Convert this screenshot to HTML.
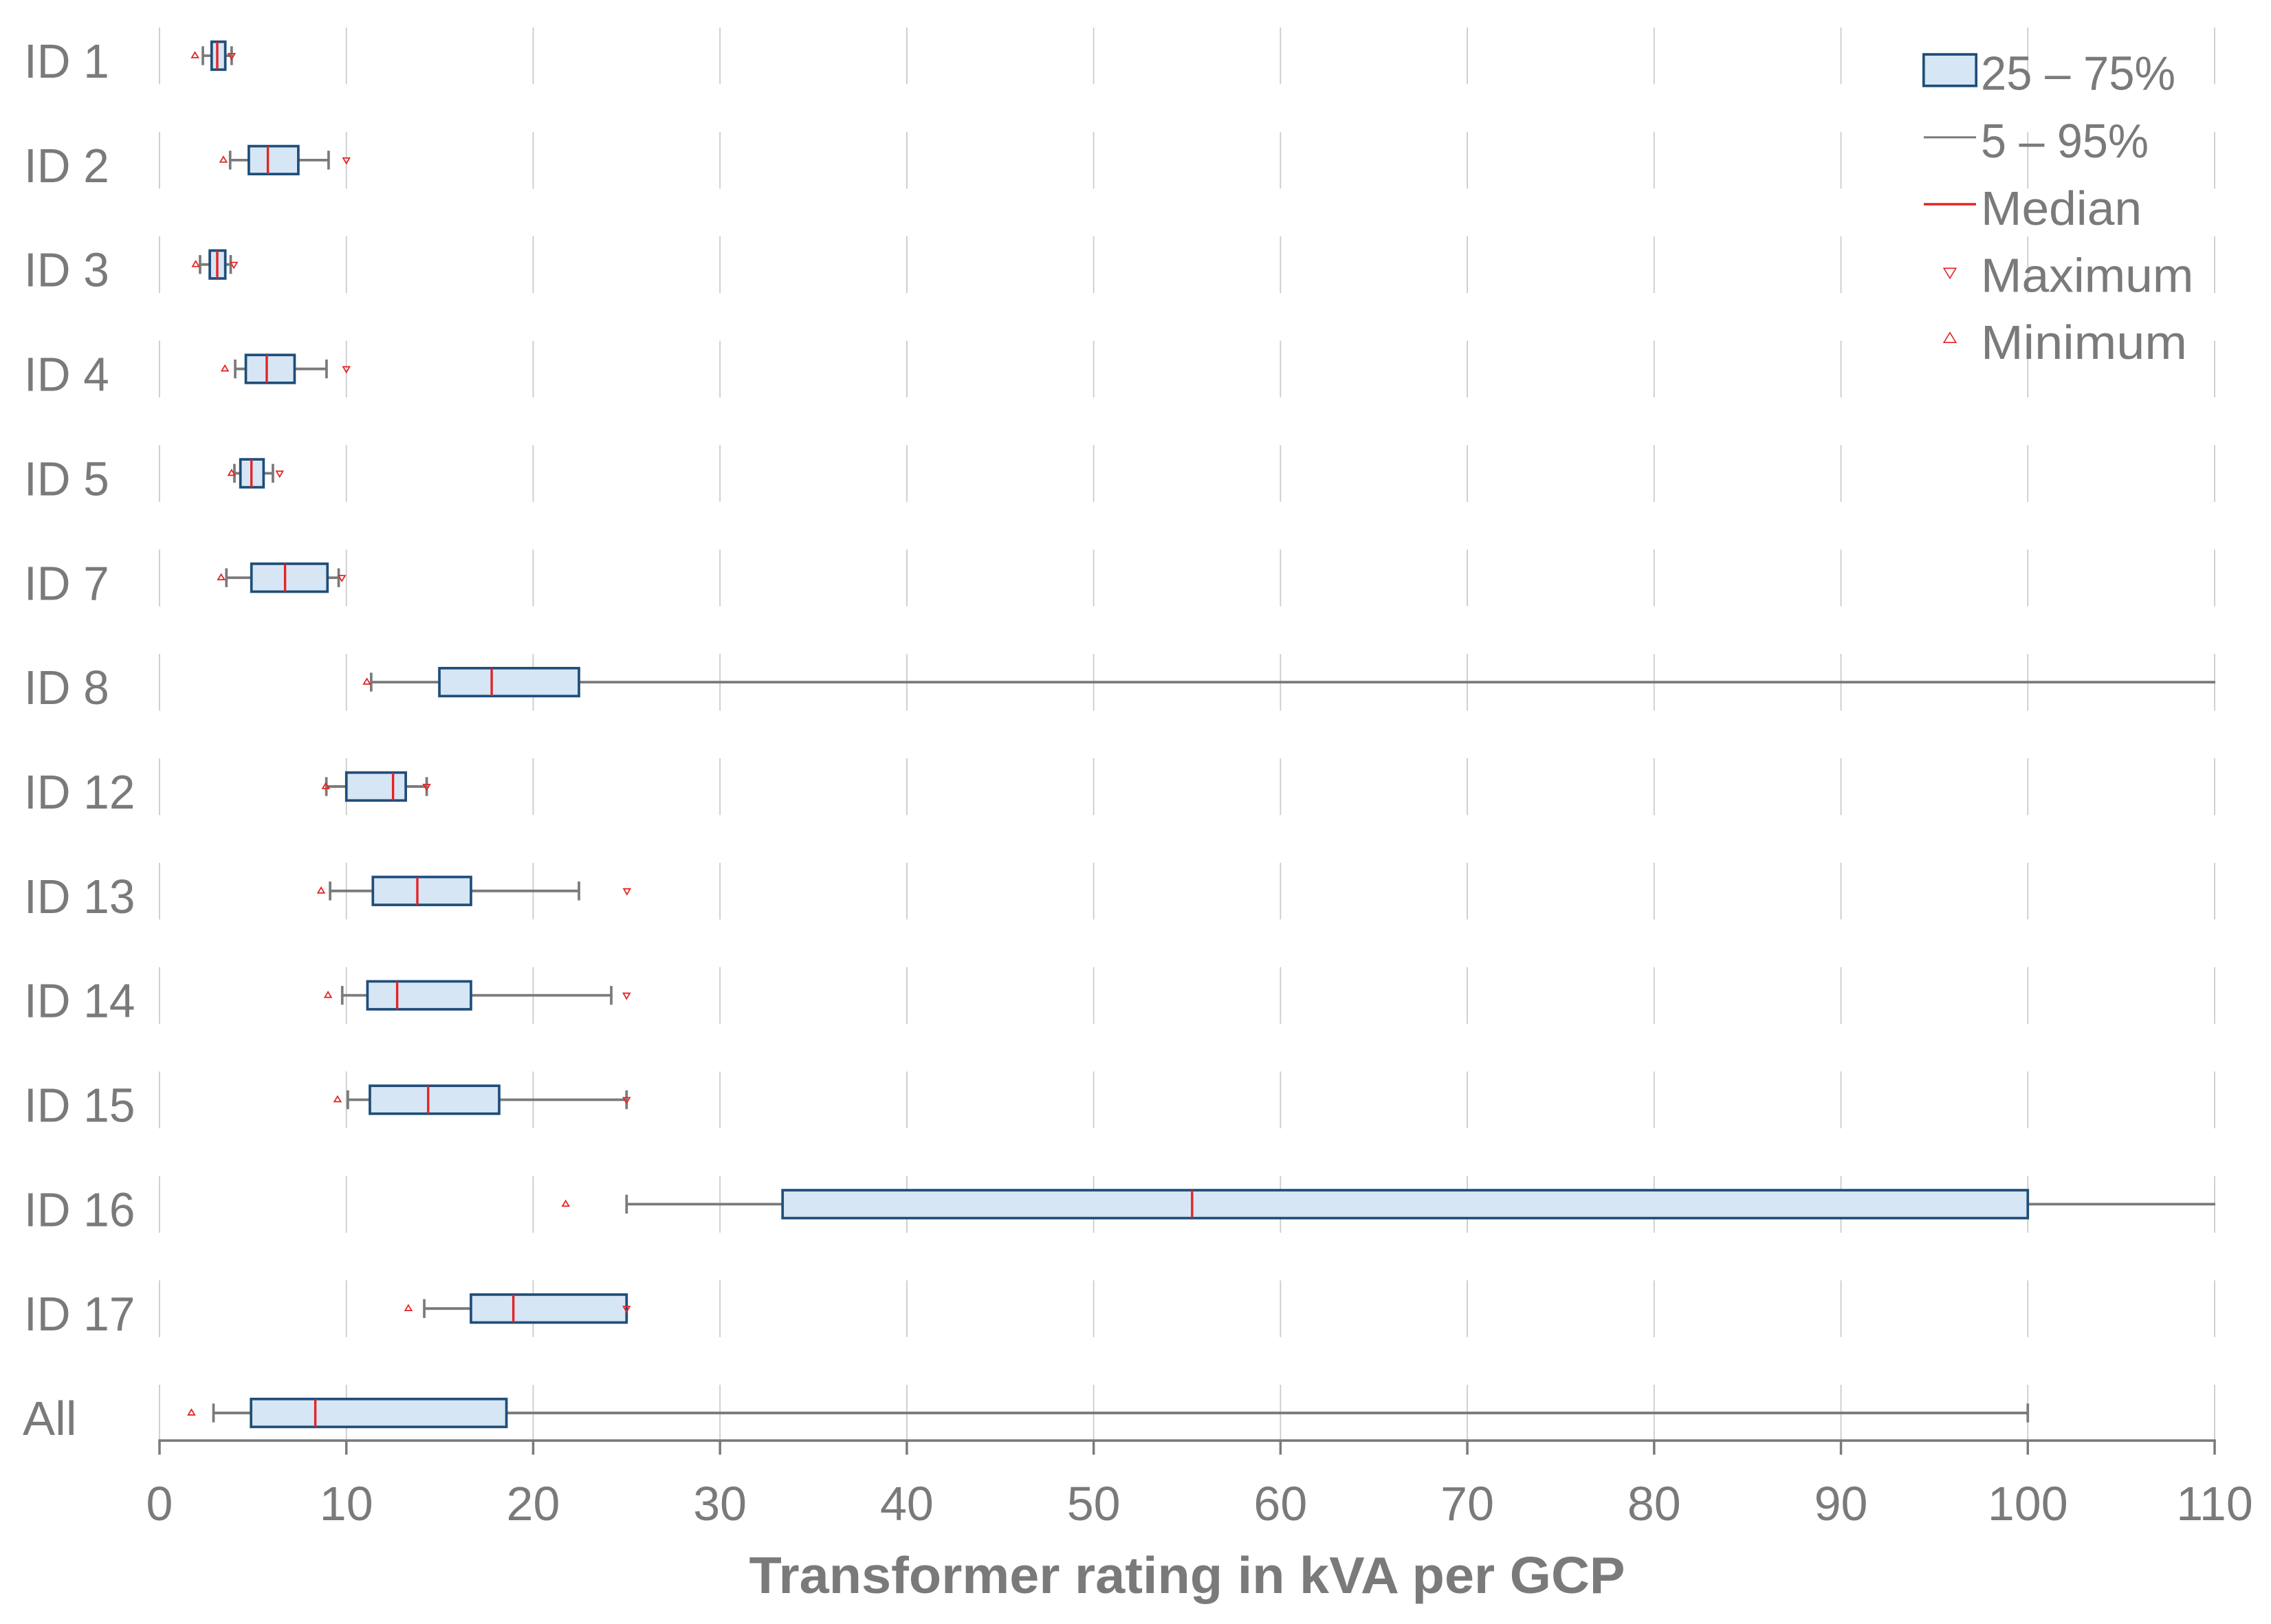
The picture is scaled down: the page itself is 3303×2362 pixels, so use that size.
<!DOCTYPE html>
<html lang="en">
<head>
<meta charset="utf-8">
<title>Transformer rating in kVA per GCP</title>
<style>
  html, body { margin: 0; padding: 0; background: #ffffff; }
  svg { display: block; }
  text { font-family: "Liberation Sans", "DejaVu Sans", sans-serif; fill: #7a7a7a; }
  .label { font-size: 70px; }
  .title { font-size: 75px; font-weight: 700; }
</style>
</head>
<body>
<svg id="chart" xmlns="http://www.w3.org/2000/svg" width="3303" height="2362" viewBox="0 0 3303 2362">
  <defs>
    <clipPath id="plot-clip"><rect x="0" y="0" width="3222" height="2362"></rect></clipPath>
  </defs>
  <rect x="0" y="0" width="3303" height="2362" fill="#ffffff"></rect>
  <g id="grid"></g>
  <g id="row-labels"></g>
  <g id="marks" clip-path="url(#plot-clip)"></g>
  <g id="axis"></g>
  <text class="title" transform="translate(1726.5,2317) scale(1.033,1)" text-anchor="middle">Transformer rating in kVA per GCP</text>

  <g>
    <g>
      <rect x="2797.8" y="79.1" width="76.4" height="45.8" fill="#d6e6f5" stroke="#1f4e79" stroke-width="3.7"></rect>
      <text class="label" transform="translate(2881,130.7) scale(0.957,1)">25 – 75%</text>
    </g>
    <g>
      <line x1="2798" x2="2874" y1="199.7" y2="199.7" stroke="#7a7a7a" stroke-width="3"></line>
      <text class="label" transform="translate(2881,228.8) scale(0.95,1)">5 – 95%</text>
    </g>
    <g>
      <line x1="2798" x2="2874" y1="297" y2="297" stroke="#e32526" stroke-width="3.5"></line>
      <text class="label" transform="translate(2881,326.8) scale(1.02,1)">Median</text>
    </g>
    <g>
      <polygon points="2827.2,390.2 2844.8,390.2 2836,404.6" fill="none" stroke="#e32526" stroke-width="1.6"></polygon>
      <text class="label" transform="translate(2881,424.5) scale(1.02,1)">Maximum</text>
    </g>
    <g>
      <polygon points="2827.2,498.2 2844.8,498.2 2836,483.8" fill="none" stroke="#e32526" stroke-width="1.6"></polygon>
      <text class="label" transform="translate(2881,521.9) scale(1.057,1)">Minimum</text>
    </g>
  </g>
</svg>

<script>
// Chart data (values in kVA per GCP)
const categories  = ['ID 1', 'ID 2', 'ID 3', 'ID 4', 'ID 5', 'ID 7', 'ID 8', 'ID 12', 'ID 13', 'ID 14', 'ID 15', 'ID 16', 'ID 17', 'All'];
const minimum     = [1.9,  3.42, 1.94, 3.5,  3.86, 3.3,  11.1,  8.9,  8.65,  9.02,  9.53,  21.74, 13.32, 1.71];
const whiskerLow  = [2.32, 3.78, 2.17, 4.05, 4.01, 3.58, 11.33, 8.93, 9.13,  9.78,  10.08, 25.0,  14.17, 2.89];
const quartile1   = [2.79, 4.78, 2.69, 4.62, 4.33, 4.92, 14.98, 10.0, 11.42, 11.13, 11.26, 33.35, 16.67, 4.9];
const medianValue = [3.09, 5.8,  3.09, 5.74, 4.92, 6.72, 17.78, 12.5, 13.8,  12.72, 14.38, 55.27, 18.94, 8.34];
const quartile3   = [3.52, 7.43, 3.52, 7.23, 5.57, 8.99, 22.45, 13.18, 16.67, 16.67, 18.18, 100.0, 25.0, 18.57];
const whiskerHigh = [3.86, 9.05, 3.81, 8.94, 6.07, 9.59, 120,   14.3, 22.45, 24.18, 25.0,  120,   25.0, 100.0];
const maximum     = [3.86, 10.0, 3.98, 10.0, 6.43, 9.76, null,  14.3, 25.02, 25.0,  25.0,  null,  25.0, null];
const xTicks      = ['0', '10', '20', '30', '40', '50', '60', '70', '80', '90', '100', '110'];

const SVG_NS = 'http://www.w3.org/2000/svg';
const AXIS_MIN = 0, AXIS_MAX = 110;
const PLOT_LEFT = 232, PLOT_RIGHT = 3221;
const ROW_FIRST = 81, ROW_STEP = 151.85;
const AXIS_Y = 2095.2;
const GREY = '#7a7a7a', NAVY = '#1f4e79', RED = '#e32526', FILL = '#d6e6f5', GRID = '#cbcbcb';

function xScale(v) { return PLOT_LEFT + (v - AXIS_MIN) * (PLOT_RIGHT - PLOT_LEFT) / (AXIS_MAX - AXIS_MIN); }
function yScale(i) { return ROW_FIRST + i * ROW_STEP; }
function slug(s) { return s.toLowerCase().replace(/\s+/g, '-'); }

function mk(parent, tag, props) {
  const el = document.createElementNS(SVG_NS, tag);
  for (const k in props) el.setAttribute(k, props[k]);
  parent.appendChild(el);
  return el;
}

const gridGroup = document.getElementById('grid');
const labelGroup = document.getElementById('row-labels');
const markGroup = document.getElementById('marks');
const axisGroup = document.getElementById('axis');

// Gridline segments and row labels
categories.forEach(function (cat, i) {
  const cy = yScale(i);
  xTicks.forEach(function (t) {
    const gx = xScale(Number(t));
    const seg = mk(gridGroup, 'line', { x1: gx, x2: gx, y1: cy - 41, y2: cy + 41.5, stroke: GRID, 'stroke-width': 1.8 });
    
    
  });
  const isId = cat.indexOf('ID') === 0;
  const lab = mk(labelGroup, 'text', { class: 'label', transform: 'translate(' + (isId ? 35 : 33) + ',' + (cy + 32) + ') scale(' + (isId ? 0.965 : 1.01) + ',1)' });
  lab.textContent = cat;
  
  
});

// Box plot marks
categories.forEach(function (cat, i) {
  const cy = yScale(i);
  const id = slug(cat);
  const g = mk(markGroup, 'g', {});
  
  

  const whisker = mk(g, 'line', { x1: xScale(whiskerLow[i]), x2: xScale(whiskerHigh[i]), y1: cy, y2: cy, stroke: GREY, 'stroke-width': 3.8 });
  
  

  const capLow = mk(g, 'line', { x1: xScale(whiskerLow[i]), x2: xScale(whiskerLow[i]), y1: cy - 13.7, y2: cy + 13.7, stroke: GREY, 'stroke-width': 3.7 });
  
  

  const capHigh = mk(g, 'line', { x1: xScale(whiskerHigh[i]), x2: xScale(whiskerHigh[i]), y1: cy - 13.7, y2: cy + 13.7, stroke: GREY, 'stroke-width': 3.7 });
  
  

  const box = mk(g, 'rect', { x: xScale(quartile1[i]), y: cy - 20.3, width: xScale(quartile3[i]) - xScale(quartile1[i]), height: 40.6, fill: FILL, stroke: NAVY, 'stroke-width': 3.7 });
  
  

  const med = mk(g, 'line', { x1: xScale(medianValue[i]), x2: xScale(medianValue[i]), y1: cy - 20, y2: cy + 20, stroke: RED, 'stroke-width': 3.4 });
  
  

  const mx = xScale(minimum[i]);
  const minMark = mk(g, 'polygon', { points: (mx - 4.7) + ',' + (cy + 2.9) + ' ' + (mx + 4.7) + ',' + (cy + 2.9) + ' ' + mx + ',' + (cy - 5), fill: 'none', stroke: RED, 'stroke-width': 1.8 });
  
  

  if (maximum[i] !== null) {
    const hx = xScale(maximum[i]);
    const maxMark = mk(g, 'polygon', { points: (hx - 4.7) + ',' + (cy - 3.1) + ' ' + (hx + 4.7) + ',' + (cy - 3.1) + ' ' + hx + ',' + (cy + 5), fill: 'none', stroke: RED, 'stroke-width': 1.8 });
    
    
  }
});

// X axis
const axisLine = mk(axisGroup, 'line', { x1: xScale(AXIS_MIN) - 1.8, x2: xScale(AXIS_MAX) + 1.8, y1: AXIS_Y, y2: AXIS_Y, stroke: GREY, 'stroke-width': 3.7 });



xTicks.forEach(function (t) {
  const tx = xScale(Number(t));
  const tick = mk(axisGroup, 'line', { x1: tx, x2: tx, y1: AXIS_Y, y2: AXIS_Y + 20.5, stroke: GREY, 'stroke-width': 3.5 });
  
  
  const lab = mk(axisGroup, 'text', { class: 'label', x: tx, y: 2211, 'text-anchor': 'middle' });
  lab.textContent = t;
  
  
});
</script>
</body>
</html>
